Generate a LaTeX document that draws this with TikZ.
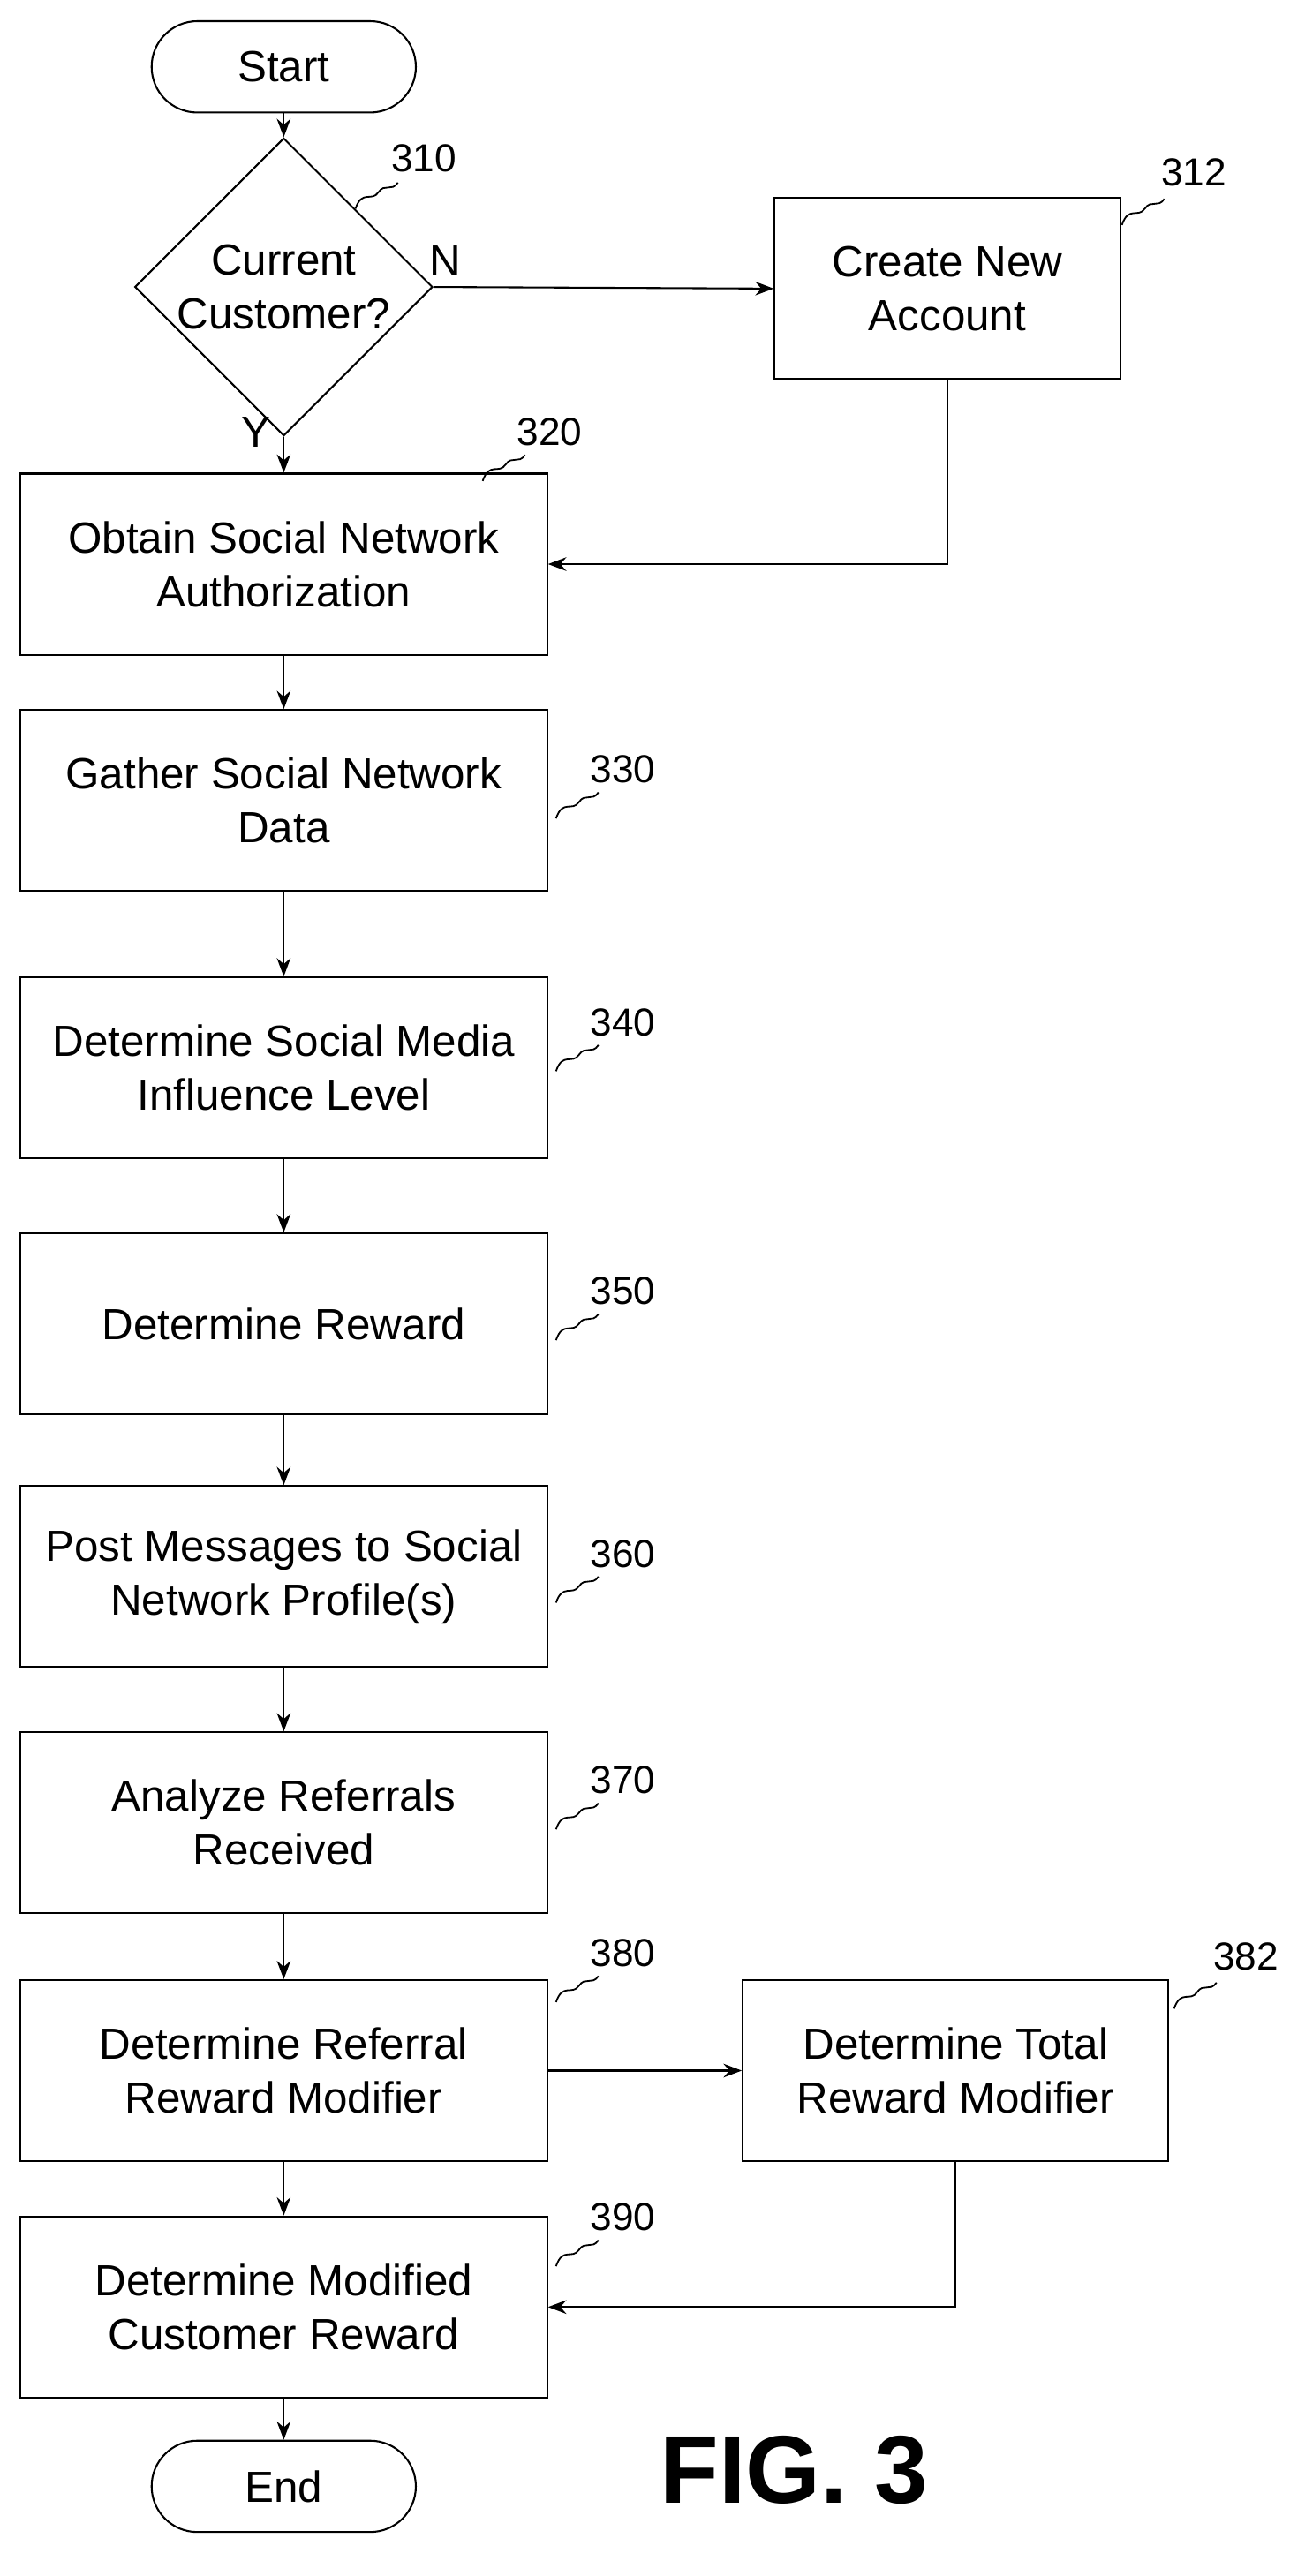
\documentclass[tikz,border=0pt]{standalone}
\usepackage{fontspec}
\setmainfont{Liberation Sans}
\usetikzlibrary{shapes.geometric,arrows.meta}
\begin{document}
\begin{tikzpicture}[x=0.025cm,y=-0.025cm,
  every node/.style={font=\fontsize{19}{23.5}\selectfont},
  box/.style={draw,line width=0.8pt,minimum width=8.075cm,minimum height=2.775cm,align=center,inner sep=2pt},
  term/.style={draw,line width=0.8pt,rounded corners=0.7cm,minimum width=4.05cm,minimum height=1.4cm},
  lab/.style={font=\fontsize{17}{18}\selectfont},
  arr/.style={line width=0.8pt,-{Stealth[length=8pt,width=6pt]}},
  sq/.style={line width=0.7pt}]
\useasboundingbox (0,0) rectangle (800,1580);
\newcommand{\squig}[2]{\draw[sq] (#1-14,#2+8) .. controls (#1-10,#2-4) and (#1-4,#2+4) .. (#1,#2-2) .. controls (#1+4,#2-8) and (#1+8,#2-2) .. (#1+12,#2-8);}
\node[term] (start) at (174,41) {Start};
\node[draw,line width=0.8pt,diamond,minimum width=4.55cm,minimum height=4cm,inner sep=0pt,align=center] (d) at (174,176) {Current\\Customer?};
\node[box,minimum width=5.3cm] (b312) at (581,177) {Create New\\Account};
\node[box] (b320) at (174,346) {Obtain Social Network\\Authorization};
\node[box] (b330) at (174,491) {Gather Social Network\\Data};
\node[box] (b340) at (174,655) {Determine Social Media\\Influence Level};
\node[box] (b350) at (174,812) {Determine Reward};
\node[box] (b360) at (174,967) {Post Messages to Social\\Network Profile(s)};
\node[box] (b370) at (174,1118) {Analyze Referrals\\Received};
\node[box] (b380) at (174,1270) {Determine Referral\\Reward Modifier};
\node[box,minimum width=6.525cm] (b382) at (586,1270) {Determine Total\\Reward Modifier};
\node[box] (b390) at (174,1415) {Determine Modified\\Customer Reward};
\node[term] (end) at (174,1525) {End};
\node[font=\bfseries\fontsize{42}{50}\selectfont] (fig) at (487,1515) {FIG. 3};
% labels
\node[lab] (l310) at (260,97) {310}; \squig{232}{120}
\node[lab] (l312) at (732,106) {312}; \squig{702}{130}
\node[lab] (l320) at (337,265) {320}; \squig{310}{287}
\node[lab] (l330) at (382,472) {330}; \squig{355}{494}
\node[lab] (l340) at (382,627) {340}; \squig{355}{649}
\node[lab] (l350) at (382,792) {350}; \squig{355}{814}
\node[lab] (l360) at (382,953) {360}; \squig{355}{975}
\node[lab] (l370) at (382,1092) {370}; \squig{355}{1114}
\node[lab] (l380) at (382,1198) {380}; \squig{355}{1220}
\node[lab] (l382) at (764,1200) {382}; \squig{734}{1224}
\node[lab] (l390) at (382,1360) {390}; \squig{355}{1382}
\node (N) at (273,160) {N};
\node (Y) at (157,265) {Y};
% connectors
\draw[arr] (start) -- (d);
\draw[arr] (d.east) -- (b312.west);
\draw[arr] (d.south) -- (b320.north);
\draw[arr] (b312.south) |- (b320.east);
\draw[arr] (b320) -- (b330);
\draw[arr] (b330) -- (b340);
\draw[arr] (b340) -- (b350);
\draw[arr] (b350) -- (b360);
\draw[arr] (b360) -- (b370);
\draw[arr] (b370) -- (b380);
\draw[arr] (b380) -- (b382);
\draw[arr] (b380) -- (b390);
\draw[arr] (b382.south) |- (b390.east);
\draw[arr] (b390) -- (end);
\end{tikzpicture}
\end{document}
